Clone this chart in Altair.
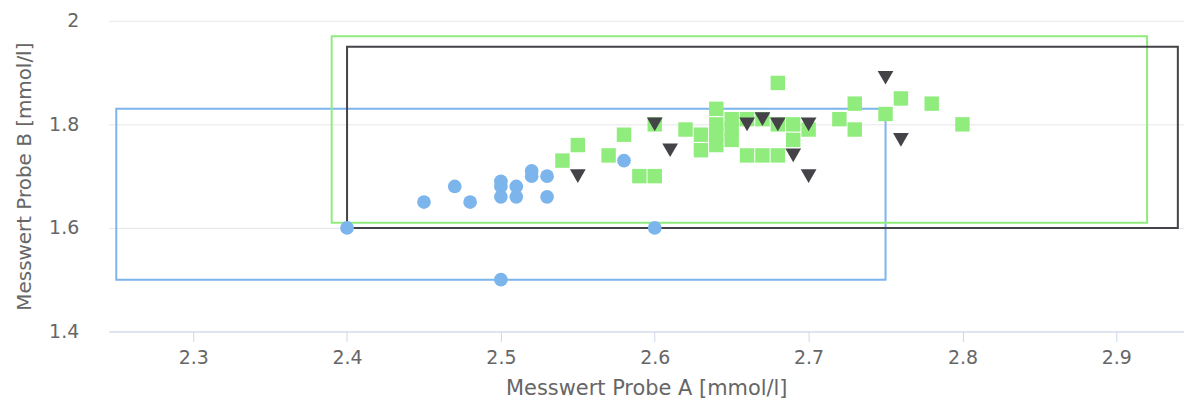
import altair as alt
import pandas as pd

# Series A (blue circles)
blue_x = [2.40, 2.45, 2.47, 2.48, 2.50, 2.50, 2.50, 2.50, 2.51, 2.51, 2.52, 2.52, 2.53, 2.53, 2.58, 2.60]
blue_y = [1.60, 1.65, 1.68, 1.65, 1.69, 1.68, 1.66, 1.50, 1.68, 1.66, 1.71, 1.70, 1.70, 1.66, 1.73, 1.60]

# Series B (green squares)
green_x = [2.54, 2.55, 2.57, 2.58, 2.59, 2.60, 2.60, 2.62, 2.63, 2.63, 2.64, 2.64, 2.64, 2.64,
           2.65, 2.65, 2.65, 2.66, 2.67, 2.68, 2.69, 2.69, 2.70, 2.66, 2.67, 2.68, 2.68,
           2.72, 2.73, 2.73, 2.75, 2.76, 2.78, 2.80]
green_y = [1.73, 1.76, 1.74, 1.78, 1.70, 1.70, 1.80, 1.79, 1.78, 1.75, 1.83, 1.80, 1.78, 1.76,
           1.81, 1.79, 1.77, 1.81, 1.81, 1.80, 1.80, 1.77, 1.79, 1.74, 1.74, 1.74, 1.88,
           1.81, 1.84, 1.79, 1.82, 1.85, 1.84, 1.80]

# Series C (dark triangles)
dark_x = [2.55, 2.60, 2.61, 2.66, 2.67, 2.68, 2.69, 2.70, 2.70, 2.75, 2.76]
dark_y = [1.70, 1.80, 1.75, 1.80, 1.81, 1.80, 1.74, 1.80, 1.70, 1.89, 1.77]

# Range boxes
box_x1 = [2.25, 2.39, 2.40]
box_x2 = [2.75, 2.92, 2.94]
box_y1 = [1.50, 1.61, 1.60]
box_y2 = [1.83, 1.97, 1.95]
box_color = ["#7cb5ec", "#90ed7d", "#434348"]

x_ticks = [2.3, 2.4, 2.5, 2.6, 2.7, 2.8, 2.9]
y_ticks = [1.4, 1.6, 1.8, 2.0]

FONT = "DejaVu Sans"
LABEL = "#666666"

xs = alt.Scale(domain=[2.245, 2.944], nice=False, zero=False)
ys = alt.Scale(domain=[1.4, 2.0], nice=False, zero=False)

x_axis = alt.Axis(values=x_ticks, format=".1~f", grid=False, domainColor="#ccd6eb",
                  tickColor="#ccd6eb", tickSize=10, labelColor=LABEL, labelFontSize=19,
                  labelFont=FONT, labelPadding=7, titleFont=FONT, titleFontSize=21,
                  titleColor=LABEL, titleFontWeight="normal", titlePadding=10)
y_axis = alt.Axis(values=y_ticks, format=".1~f", grid=True, gridColor="#e6e6e6", domain=False,
                  ticks=False, labelColor=LABEL, labelFontSize=19, labelFont=FONT,
                  labelPadding=30, titleFont=FONT, titleFontSize=20, titleColor=LABEL,
                  titleFontWeight="normal", titlePadding=14)

boxes = pd.DataFrame({"x1": box_x1, "x2": box_x2, "y1": box_y1, "y2": box_y2, "c": box_color})
blue = pd.DataFrame({"a": blue_x, "b": blue_y})
green = pd.DataFrame({"a": green_x, "b": green_y})
dark = pd.DataFrame({"a": dark_x, "b": dark_y})

rects = alt.Chart(boxes).mark_rect(filled=False, strokeWidth=2).encode(
    x=alt.X("x1:Q", scale=xs, axis=x_axis, title="Messwert Probe A [mmol/l]"),
    x2="x2:Q",
    y=alt.Y("y1:Q", scale=ys, axis=y_axis, title="Messwert Probe B [mmol/l]"),
    y2="y2:Q",
    stroke=alt.Color("c:N", scale=None),
)

def pts(df, shape, color, size):
    return alt.Chart(df).mark_point(shape=shape, filled=True, opacity=1, size=size, color=color).encode(
        x=alt.X("a:Q", scale=xs),
        y=alt.Y("b:Q", scale=ys),
    )

chart = alt.layer(
    rects,
    pts(blue, "circle", "#7cb5ec", 190),
    pts(green, "square", "#90ed7d", 210),
    pts(dark, "triangle-down", "#434348", 250),
).properties(
    width=1080, height=312,
    autosize=alt.AutoSizeParams(type="none"),
    padding={"left": 101, "top": 12, "right": 0, "bottom": 72},
).configure_view(stroke=None)

chart.save("out.html", embed_options={"renderer": "svg", "actions": False})
